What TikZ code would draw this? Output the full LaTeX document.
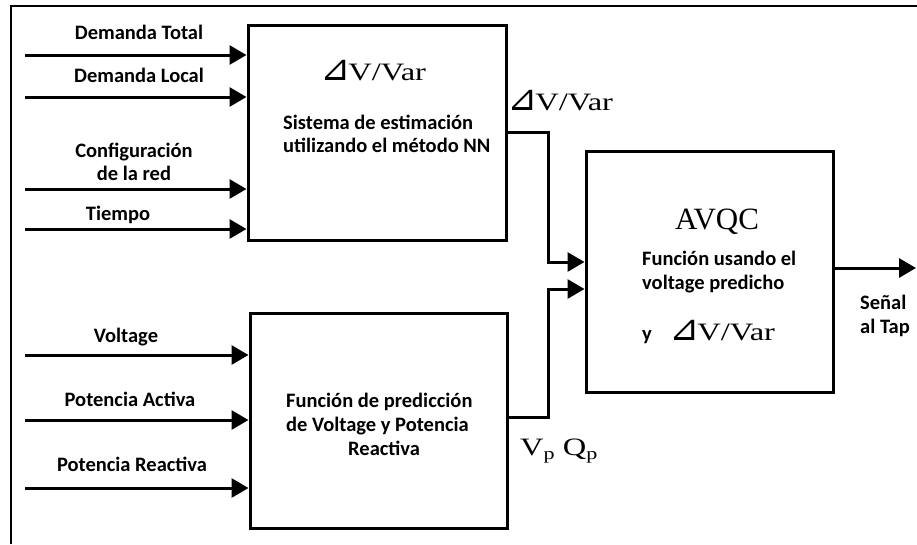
\documentclass[tikz,border=0pt]{standalone}
\usepackage{fontspec}
\setmainfont{Carlito}
\newfontfamily\tnr[FakeStretch=1.3]{Liberation Serif}
\newfontfamily\tnrn{Liberation Serif}
\newfontfamily\symf{DejaVu Sans}
\usetikzlibrary{arrows.meta,positioning,calc}
\newcommand{\dvar}{{\symf\fontsize{36}{36}\selectfont ⊿}\kern-2pt{\tnr V/Var}}
\tikzset{
    >=Stealth,
    lbl/.style={font=\fontsize{20.5}{23}\selectfont\bfseries, inner sep=0pt, anchor=base},
    blk/.style={draw, line width=3pt, inner sep=0pt},
    arr/.style={line width=3pt, -{Triangle[length=17pt,width=19pt]}},
    sym/.style={font=\fontsize{25}{25}\selectfont, inner sep=0pt, anchor=base west}
}

\begin{document}
\begin{tikzpicture}[x=1pt, y=-1pt]
  \useasboundingbox (0,0) rectangle (917,544);
  % outer frame
  \draw[line width=2pt] (11,544) -- (11,6) -- (917,6);

  % Blocks
  \node[blk, minimum width=258pt, minimum height=215pt] (nn)   at (377,132.5) {};
  \node[blk, minimum width=257pt, minimum height=215pt] (pred) at (378.5,420.5) {};
  \node[blk, minimum width=247pt, minimum height=241pt] (avqc) at (709.5,271.5) {};

  % Block texts (base = last line)
  \node[sym] (nnsym) at (320,80) {\dvar};
  \node[lbl, anchor=base west, align=left] (nntxt) at (283,152) {Sistema de estimación\\utilizando el método NN};
  \node[lbl, anchor=base west, align=left, font=\fontsize{20.5}{24}\selectfont\bfseries] (predtxt) at (286,455)
    {Función de predicción\\de Voltage y Potencia\\\hspace*{62pt}Reactiva};
  \node[inner sep=0pt, anchor=base, font=\tnrn\fontsize{31}{31}\selectfont] (avqcl) at (717,229) {AVQC};
  \node[lbl, anchor=base west, align=left, font=\fontsize{20.5}{24}\selectfont\bfseries] (avqctxt) at (642,289)
    {Función usando el\\voltage predicho};
  \node[lbl, anchor=base west] (yl) at (642,340) {y};
  \node[sym] (avqcsym) at (669,340) {\dvar};

  % Inputs of the NN block
  \coordinate (dt) at (25,55);
  \coordinate (dl) at (25,97);
  \coordinate (cf) at (25,189);
  \coordinate (ti) at (25,229);
  \node[lbl] (dtl) at (139,39) {Demanda Total};
  \node[lbl] (dll) at (139,82) {Demanda Local};
  \node[lbl, align=center] (cfl) at (134,180) {Configuración\\de la red};
  \node[lbl] (til) at (118,220) {Tiempo};
  \foreach \c in {dt,dl,cf,ti}
    \draw[arr] (\c) -- (\c -| nn.west);

  % Inputs of the prediction block
  \coordinate (vo) at (25,355);
  \coordinate (pa) at (25,420);
  \coordinate (pr) at (25,488);
  \node[lbl] (vol) at (126,342) {Voltage};
  \node[lbl] (pal) at (130,406) {Potencia Activa};
  \node[lbl] (prl) at (132,471) {Potencia Reactiva};
  \foreach \c in {vo,pa,pr}
    \draw[arr] (\c) -- (\c -| pred.west);

  % Block to block
  \draw[arr] (nn.east) -- ++(41,0) |- ([yshift=9.5pt]avqc.west);
  \draw[arr] ([yshift=3.5pt]pred.east) -- ++(40,0) |- ([yshift=-17.5pt]avqc.west);
  \node[sym] (outsym) at (507,110) {\dvar};
  \node[sym] (vpq) at (520,455) {\tnr V\raisebox{-4pt}{\fontsize{17}{17}\selectfont p} Q\raisebox{-4pt}{\fontsize{17}{17}\selectfont p}};

  % Output
  \coordinate (tap) at (916,268);
  \draw[arr] ([yshift=3.5pt]avqc.east) -- (tap);
  \node[lbl, anchor=base west, align=left, font=\fontsize{20.5}{24}\selectfont\bfseries] (tapl) at (860,333) {Señal\\al Tap};
\end{tikzpicture}
\end{document}
